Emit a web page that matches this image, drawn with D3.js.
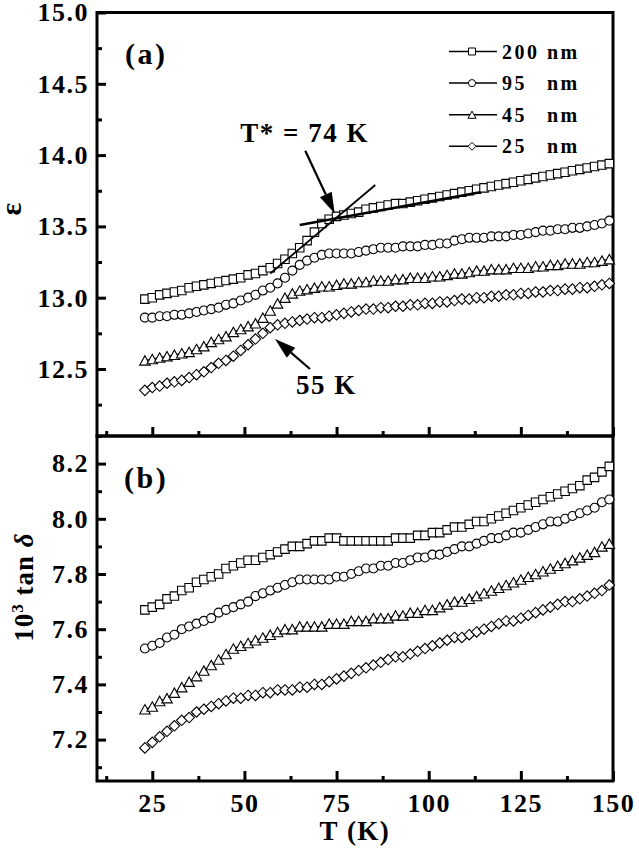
<!DOCTYPE html>
<html>
<head>
<meta charset="utf-8">
<script src="https://cdnjs.cloudflare.com/ajax/libs/d3/7.8.5/d3.min.js"></script>
<style>
  body { margin: 0; background: #fff; }
  svg text { font-family: "Liberation Serif", "Times New Roman", serif; font-weight: bold; fill: #000; }
</style>
</head>
<body>
<div id="chart"></div>
<script>
// Temperature (K), same grid for every sample
const temps = [23, 25, 27, 29, 31, 33, 35, 37,
  39, 41, 43, 45, 47, 49, 51, 53,
  55, 57, 59, 61, 63, 65, 67, 69,
  71, 73, 75, 77, 79, 81, 83, 85,
  87, 89, 91, 93, 95, 97, 99, 101,
  103, 105, 107, 109, 111, 113, 115, 117,
  119, 121, 123, 125, 127, 129, 131, 133,
  135, 137, 139, 141, 143, 145, 147, 149];

// (a) dielectric constant
const eps200 = [12.99, 13.00, 13.02, 13.03, 13.04, 13.05, 13.07, 13.08,
  13.09, 13.10, 13.11, 13.12, 13.13, 13.14, 13.16, 13.17,
  13.19, 13.21, 13.24, 13.27, 13.31, 13.35, 13.40, 13.46,
  13.52, 13.55, 13.57, 13.58, 13.59, 13.60, 13.62, 13.63,
  13.64, 13.65, 13.66, 13.66, 13.67, 13.68, 13.69, 13.70,
  13.71, 13.72, 13.73, 13.74, 13.75, 13.76, 13.77, 13.78,
  13.79, 13.80, 13.81, 13.82, 13.83, 13.84, 13.85, 13.86,
  13.87, 13.88, 13.89, 13.90, 13.91, 13.92, 13.93, 13.94];
const eps95 = [12.86, 12.86, 12.87, 12.87, 12.88, 12.88, 12.89, 12.90,
  12.91, 12.92, 12.93, 12.95, 12.96, 12.98, 13.00, 13.02,
  13.05, 13.07, 13.10, 13.14, 13.19, 13.23, 13.26, 13.28,
  13.30, 13.31, 13.31, 13.31, 13.31, 13.32, 13.33, 13.34,
  13.35, 13.35, 13.35, 13.36, 13.36, 13.36, 13.37, 13.37,
  13.38, 13.38, 13.40, 13.41, 13.42, 13.42, 13.42, 13.43,
  13.43, 13.43, 13.44, 13.44, 13.45, 13.46, 13.47, 13.47,
  13.48, 13.48, 13.49, 13.49, 13.50, 13.51, 13.52, 13.54];
const eps45 = [12.56, 12.57, 12.58, 12.59, 12.60, 12.61, 12.62, 12.64,
  12.66, 12.69, 12.71, 12.73, 12.76, 12.78, 12.80, 12.82,
  12.86, 12.91, 12.96, 13.00, 13.03, 13.05, 13.06, 13.07,
  13.08, 13.08, 13.09, 13.10, 13.10, 13.11, 13.11, 13.12,
  13.12, 13.12, 13.13, 13.13, 13.14, 13.14, 13.14, 13.15,
  13.15, 13.16, 13.17, 13.17, 13.18, 13.19, 13.19, 13.20,
  13.20, 13.20, 13.21, 13.21, 13.21, 13.22, 13.22, 13.23,
  13.23, 13.24, 13.24, 13.24, 13.25, 13.25, 13.26, 13.27];
const eps25 = [12.35, 12.37, 12.38, 12.40, 12.41, 12.42, 12.44, 12.46,
  12.48, 12.51, 12.54, 12.56, 12.59, 12.63, 12.67, 12.71,
  12.75, 12.79, 12.81, 12.82, 12.83, 12.84, 12.85, 12.86,
  12.86, 12.87, 12.88, 12.89, 12.90, 12.91, 12.92, 12.92,
  12.93, 12.93, 12.94, 12.94, 12.95, 12.95, 12.96, 12.96,
  12.97, 12.97, 12.98, 12.99, 12.99, 13.00, 13.00, 13.01,
  13.01, 13.02, 13.02, 13.03, 13.03, 13.04, 13.04, 13.05,
  13.05, 13.06, 13.06, 13.07, 13.07, 13.08, 13.09, 13.10];

// (b) 10^3 tan delta
const tan200 = [7.67, 7.68, 7.69, 7.71, 7.72, 7.74, 7.75, 7.77,
  7.78, 7.79, 7.80, 7.82, 7.83, 7.84, 7.85, 7.85,
  7.86, 7.87, 7.88, 7.89, 7.90, 7.90, 7.91, 7.92,
  7.92, 7.93, 7.93, 7.92, 7.92, 7.92, 7.92, 7.92,
  7.92, 7.92, 7.93, 7.93, 7.93, 7.94, 7.94, 7.95,
  7.95, 7.96, 7.97, 7.97, 7.98, 7.99, 7.99, 8.00,
  8.01, 8.02, 8.03, 8.04, 8.05, 8.06, 8.07, 8.08,
  8.09, 8.10, 8.11, 8.12, 8.14, 8.15, 8.17, 8.19];
const tan95 = [7.53, 7.54, 7.55, 7.57, 7.58, 7.60, 7.61, 7.62,
  7.63, 7.64, 7.66, 7.67, 7.68, 7.69, 7.70, 7.72,
  7.73, 7.74, 7.75, 7.76, 7.77, 7.78, 7.78, 7.78,
  7.78, 7.78, 7.79, 7.79, 7.80, 7.81, 7.82, 7.82,
  7.83, 7.83, 7.84, 7.84, 7.85, 7.86, 7.86, 7.87,
  7.87, 7.88, 7.89, 7.90, 7.90, 7.91, 7.92, 7.93,
  7.93, 7.94, 7.95, 7.95, 7.96, 7.97, 7.98, 7.99,
  7.99, 8.00, 8.01, 8.02, 8.03, 8.04, 8.06, 8.07];
const tan45 = [7.31, 7.32, 7.34, 7.35, 7.37, 7.39, 7.41, 7.43,
  7.45, 7.47, 7.49, 7.51, 7.53, 7.54, 7.55, 7.56,
  7.57, 7.58, 7.59, 7.60, 7.60, 7.61, 7.61, 7.61,
  7.61, 7.62, 7.62, 7.62, 7.63, 7.63, 7.63, 7.64,
  7.64, 7.64, 7.65, 7.65, 7.66, 7.66, 7.67, 7.67,
  7.68, 7.69, 7.70, 7.70, 7.71, 7.72, 7.73, 7.74,
  7.75, 7.76, 7.77, 7.78, 7.79, 7.80, 7.81, 7.82,
  7.83, 7.84, 7.85, 7.86, 7.87, 7.88, 7.90, 7.91];
const tan25 = [7.17, 7.19, 7.21, 7.23, 7.25, 7.27, 7.28, 7.30,
  7.31, 7.32, 7.33, 7.34, 7.35, 7.35, 7.36, 7.36,
  7.37, 7.37, 7.38, 7.38, 7.38, 7.39, 7.39, 7.40,
  7.40, 7.41, 7.42, 7.43, 7.44, 7.45, 7.46, 7.47,
  7.48, 7.49, 7.50, 7.50, 7.51, 7.52, 7.53, 7.54,
  7.55, 7.56, 7.57, 7.57, 7.58, 7.59, 7.60, 7.61,
  7.62, 7.63, 7.63, 7.64, 7.65, 7.66, 7.67, 7.68,
  7.69, 7.70, 7.70, 7.71, 7.72, 7.73, 7.74, 7.76];

const sizeLabels = ["200", "95", "45", "25"];
const xTicks = [25, 50, 75, 100, 125, 150];
const epsTicks = [12.5, 13.0, 13.5, 14.0, 14.5, 15.0];
const tanTicks = [7.2, 7.4, 7.6, 7.8, 8.0, 8.2];

// straight lines crossing at T* (T from/to, eps from/to)
const fitT = [[65, 114], [57, 85.5]];
const fitEps = [[13.51, 13.74], [13.17, 13.79]];

const width = 639, height = 852;
const left = 97, right = 613;
const topA = 12.5, mid = 436, bottomB = 781;
const serif = '"Liberation Serif", "Times New Roman", serif';

const svg = d3.select("#chart").append("svg")
  .attr("width", width)
  .attr("height", height)
  .attr("font-family", serif);

const x = d3.scaleLinear().domain([10, 150]).range([left, right]);
const yA = d3.scaleLinear().domain([12.03, 15]).range([mid, topA]);
const yB = d3.scaleLinear().domain([7.05, 8.3]).range([bottomB, mid]);

// open symbols
const triangle = {
  draw(ctx, size) {
    const w = Math.sqrt(size), h = w * 0.9;
    ctx.moveTo(0, -h / 2);
    ctx.lineTo(w / 2, h / 2);
    ctx.lineTo(-w / 2, h / 2);
    ctx.closePath();
  }
};
const diamond = {
  draw(ctx, size) {
    const r = Math.sqrt(size) / 2;
    ctx.moveTo(0, -r);
    ctx.lineTo(r, 0);
    ctx.lineTo(0, r);
    ctx.lineTo(-r, 0);
    ctx.closePath();
  }
};
const symbolTypes = [d3.symbolSquare, d3.symbolCircle, triangle, diamond];
const symbolSizes = [72, 64, 110, 110];
const legendSizes = [49, 40, 64, 64];

function drawSeries(values, y, i) {
  const pts = temps.map((t, j) => [t, values[j]]);
  svg.append("path")
    .datum(pts)
    .attr("fill", "none")
    .attr("stroke", "#000")
    .attr("stroke-width", 1)
    .attr("d", d3.line().x(d => x(d[0])).y(d => y(d[1])));
  svg.append("g").selectAll("path")
    .data(pts)
    .enter().append("path")
    .attr("transform", d => "translate(" + x(d[0]) + "," + y(d[1]) + ")")
    .attr("d", d3.symbol().type(symbolTypes[i]).size(symbolSizes[i]))
    .attr("fill", "#fff")
    .attr("stroke", "#000")
    .attr("stroke-width", 1.1);
}

function styleAxis(g) {
  g.attr("font-family", serif);
  g.select(".domain").remove();
  g.selectAll(".tick line").attr("stroke", "#000").attr("stroke-width", 3);
  g.selectAll(".tick text")
    .attr("font-family", serif)
    .attr("font-weight", "bold")
    .attr("font-size", 26)
    .attr("letter-spacing", 1.5)
    .attr("fill", "#000");
}

function drawAxes() {
  // panel (a) y axis
  svg.append("g").attr("transform", "translate(" + left + ",0)")
    .call(d3.axisLeft(yA).tickValues(epsTicks).tickSize(-9).tickPadding(8)
      .tickFormat(d3.format(".1f")))
    .call(styleAxis);
  svg.append("g").attr("transform", "translate(" + left + ",0)")
    .call(d3.axisLeft(yA).tickValues(epsTicks.map(v => v - 0.25)).tickSize(-5).tickFormat(""))
    .call(styleAxis);

  // panel (b) y axis
  svg.append("g").attr("transform", "translate(" + left + ",0)")
    .call(d3.axisLeft(yB).tickValues(tanTicks).tickSize(-9).tickPadding(8)
      .tickFormat(d3.format(".1f")))
    .call(styleAxis);
  svg.append("g").attr("transform", "translate(" + left + ",0)")
    .call(d3.axisLeft(yB).tickValues(tanTicks.map(v => v - 0.1).concat([8.3])).tickSize(-5).tickFormat(""))
    .call(styleAxis);

  // shared x axis
  const xMinor = xTicks.map(v => v - 12.5);
  svg.append("g").attr("transform", "translate(0," + bottomB + ")")
    .call(d3.axisBottom(x).tickValues(xTicks).tickSize(-10).tickPadding(13))
    .call(styleAxis);
  svg.append("g").attr("transform", "translate(0," + bottomB + ")")
    .call(d3.axisBottom(x).tickValues(xMinor).tickSize(-5).tickFormat(""))
    .call(styleAxis);
  svg.append("g").attr("transform", "translate(0," + mid + ")")
    .call(d3.axisBottom(x).tickValues(xTicks).tickSize(-9).tickFormat(""))
    .call(styleAxis);
  svg.append("g").attr("transform", "translate(0," + mid + ")")
    .call(d3.axisBottom(x).tickValues(xMinor).tickSize(-5).tickFormat(""))
    .call(styleAxis);

  // frames
  [[topA, mid], [mid, bottomB]].forEach(r => {
    svg.append("rect")
      .attr("x", left).attr("y", r[0])
      .attr("width", right - left).attr("height", r[1] - r[0])
      .attr("fill", "none").attr("stroke", "#000").attr("stroke-width", 3);
  });
}

function arrow(x1, y1, x2, y2) {
  const ang = Math.atan2(y2 - y1, x2 - x1);
  const len = 21, hw = 6.5;
  const bx = x2 - len * Math.cos(ang), by = y2 - len * Math.sin(ang);
  svg.append("line")
    .attr("x1", x1).attr("y1", y1).attr("x2", bx).attr("y2", by)
    .attr("stroke", "#000").attr("stroke-width", 2.2);
  const px = -Math.sin(ang) * hw, py = Math.cos(ang) * hw;
  svg.append("path")
    .attr("d", "M" + x2 + "," + y2 + "L" + (bx + px) + "," + (by + py) + "L" + (bx - px) + "," + (by - py) + "Z")
    .attr("fill", "#000");
}

function drawLegend() {
  const lg = svg.append("g");
  sizeLabels.forEach((lab, i) => {
    const cy = 51.5 + i * 31.6;
    lg.append("line")
      .attr("x1", 449).attr("x2", 497).attr("y1", cy).attr("y2", cy)
      .attr("stroke", "#000").attr("stroke-width", 1.5);
    lg.append("path")
      .attr("transform", "translate(472," + cy + ")")
      .attr("d", d3.symbol().type(symbolTypes[i]).size(legendSizes[i]))
      .attr("fill", "#fff").attr("stroke", "#000").attr("stroke-width", 1);
    lg.append("text").attr("x", 502).attr("y", cy + 7)
      .attr("font-size", 20).attr("letter-spacing", 2.5).text(lab);
    lg.append("text").attr("x", 547).attr("y", cy + 7)
      .attr("font-size", 20).attr("letter-spacing", 2.5).text("nm");
  });
}

drawAxes();

[eps200, eps95, eps45, eps25].forEach((s, i) => drawSeries(s, yA, i));
[tan200, tan95, tan45, tan25].forEach((s, i) => drawSeries(s, yB, i));

// lines crossing at T*
fitT.forEach((t, i) => {
  svg.append("line")
    .attr("x1", x(t[0])).attr("y1", yA(fitEps[i][0]))
    .attr("x2", x(t[1])).attr("y2", yA(fitEps[i][1]))
    .attr("stroke", "#000").attr("stroke-width", i === 0 ? 2.5 : 1.8);
});

arrow(x(66.5), yA(14.03), x(74.5), yA(13.59));
arrow(x(67.8), yA(12.5), x(58.3), yA(12.71));

svg.append("text").attr("x", 369).attr("y", 142)
  .attr("text-anchor", "end").attr("font-size", 27).attr("letter-spacing", 1.5)
  .text("T* = 74 K");
svg.append("text").attr("x", 296).attr("y", 394)
  .attr("font-size", 27).attr("letter-spacing", 1.5)
  .text("55 K");

svg.append("text").attr("x", 125).attr("y", 64)
  .attr("font-size", 30).attr("letter-spacing", 2.5).text("(a)");
svg.append("text").attr("x", 124).attr("y", 488)
  .attr("font-size", 30).attr("letter-spacing", 2.5).text("(b)");

drawLegend();

// axis titles
svg.append("text").attr("x", 355).attr("y", 840)
  .attr("text-anchor", "middle").attr("font-size", 27).attr("letter-spacing", 1.5)
  .text("T (K)");
svg.append("text")
  .attr("transform", "translate(21,209) rotate(-90)")
  .attr("text-anchor", "middle").attr("font-size", 30)
  .text("ε");
const yt = svg.append("text")
  .attr("transform", "translate(33,587) rotate(-90)")
  .attr("text-anchor", "middle").attr("font-size", 27).attr("letter-spacing", 1);
yt.append("tspan").text("10");
yt.append("tspan").attr("dy", -10).attr("font-size", 17).text("3");
yt.append("tspan").attr("dy", 10).text(" tan ");
yt.append("tspan").attr("font-style", "italic").text("δ");
</script>
</body>
</html>
